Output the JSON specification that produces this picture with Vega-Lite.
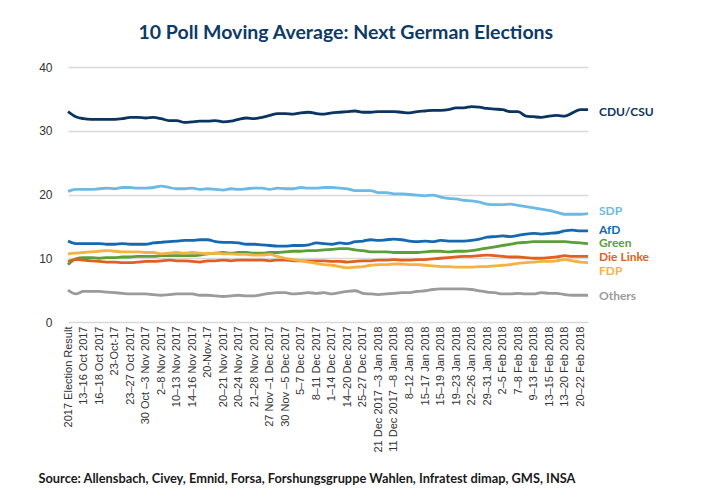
{
  "$schema": "https://vega.github.io/schema/vega-lite/v6.json",
  "width": 520,
  "height": 255,
  "padding": {"left": 38, "top": 22, "right": 0, "bottom": 0},
  "background": "white",
  "title": {
    "text": "10 Poll Moving Average: Next German Elections",
    "font": "Lato",
    "fontSize": 19.5,
    "fontWeight": "bold",
    "color": "#0d3a66",
    "anchor": "middle",
    "frame": "bounds",
    "offset": 18
  },
  "config": {"view": {"stroke": null}},
  "datasets": {
    "polls": [
      {"i":0,"CDU/CSU":33.0,"SDP":20.5,"AfD":12.7,"Green":9.0,"Die Linke":9.5,"FDP":10.7,"Others":5.0},
      {"i":1,"CDU/CSU":32.2,"SDP":20.8,"AfD":12.3,"Green":9.9,"Die Linke":9.8,"FDP":10.8,"Others":4.4},
      {"i":2,"CDU/CSU":31.9,"SDP":20.8,"AfD":12.3,"Green":10.1,"Die Linke":9.7,"FDP":10.9,"Others":4.8},
      {"i":3,"CDU/CSU":31.8,"SDP":20.8,"AfD":12.3,"Green":10.1,"Die Linke":9.6,"FDP":11.0,"Others":4.8},
      {"i":4,"CDU/CSU":31.8,"SDP":20.9,"AfD":12.3,"Green":10.0,"Die Linke":9.5,"FDP":11.1,"Others":4.8},
      {"i":5,"CDU/CSU":31.8,"SDP":21.0,"AfD":12.2,"Green":10.1,"Die Linke":9.4,"FDP":11.2,"Others":4.7},
      {"i":6,"CDU/CSU":31.8,"SDP":20.9,"AfD":12.2,"Green":10.1,"Die Linke":9.4,"FDP":11.1,"Others":4.6},
      {"i":7,"CDU/CSU":31.9,"SDP":21.1,"AfD":12.3,"Green":10.2,"Die Linke":9.3,"FDP":11.0,"Others":4.5},
      {"i":8,"CDU/CSU":32.1,"SDP":21.1,"AfD":12.2,"Green":10.2,"Die Linke":9.3,"FDP":11.0,"Others":4.4},
      {"i":9,"CDU/CSU":32.1,"SDP":21.0,"AfD":12.2,"Green":10.3,"Die Linke":9.4,"FDP":11.0,"Others":4.4},
      {"i":10,"CDU/CSU":32.0,"SDP":21.0,"AfD":12.2,"Green":10.3,"Die Linke":9.5,"FDP":10.9,"Others":4.4},
      {"i":11,"CDU/CSU":32.1,"SDP":21.1,"AfD":12.4,"Green":10.3,"Die Linke":9.5,"FDP":10.9,"Others":4.3},
      {"i":12,"CDU/CSU":31.9,"SDP":21.3,"AfD":12.5,"Green":10.4,"Die Linke":9.6,"FDP":10.7,"Others":4.2},
      {"i":13,"CDU/CSU":31.6,"SDP":21.1,"AfD":12.6,"Green":10.4,"Die Linke":9.7,"FDP":10.8,"Others":4.3},
      {"i":14,"CDU/CSU":31.6,"SDP":20.9,"AfD":12.7,"Green":10.4,"Die Linke":9.6,"FDP":10.9,"Others":4.4},
      {"i":15,"CDU/CSU":31.3,"SDP":20.9,"AfD":12.8,"Green":10.4,"Die Linke":9.6,"FDP":10.8,"Others":4.4},
      {"i":16,"CDU/CSU":31.4,"SDP":21.0,"AfD":12.8,"Green":10.4,"Die Linke":9.5,"FDP":10.9,"Others":4.4},
      {"i":17,"CDU/CSU":31.5,"SDP":20.8,"AfD":12.9,"Green":10.5,"Die Linke":9.4,"FDP":10.8,"Others":4.2},
      {"i":18,"CDU/CSU":31.5,"SDP":20.9,"AfD":12.9,"Green":10.7,"Die Linke":9.6,"FDP":10.7,"Others":4.2},
      {"i":19,"CDU/CSU":31.6,"SDP":20.8,"AfD":12.6,"Green":10.8,"Die Linke":9.6,"FDP":10.8,"Others":4.1},
      {"i":20,"CDU/CSU":31.4,"SDP":20.7,"AfD":12.5,"Green":10.9,"Die Linke":9.7,"FDP":10.7,"Others":4.0},
      {"i":21,"CDU/CSU":31.5,"SDP":20.9,"AfD":12.5,"Green":10.8,"Die Linke":9.6,"FDP":10.7,"Others":4.1},
      {"i":22,"CDU/CSU":31.8,"SDP":20.8,"AfD":12.4,"Green":10.9,"Die Linke":9.7,"FDP":10.6,"Others":4.2},
      {"i":23,"CDU/CSU":32.0,"SDP":20.9,"AfD":12.2,"Green":10.9,"Die Linke":9.7,"FDP":10.6,"Others":4.1},
      {"i":24,"CDU/CSU":31.9,"SDP":21.0,"AfD":12.2,"Green":10.8,"Die Linke":9.7,"FDP":10.5,"Others":4.1},
      {"i":25,"CDU/CSU":32.1,"SDP":21.0,"AfD":12.1,"Green":10.8,"Die Linke":9.7,"FDP":10.5,"Others":4.3},
      {"i":26,"CDU/CSU":32.4,"SDP":20.8,"AfD":12.0,"Green":10.9,"Die Linke":9.6,"FDP":10.6,"Others":4.5},
      {"i":27,"CDU/CSU":32.7,"SDP":21.0,"AfD":11.9,"Green":10.9,"Die Linke":9.7,"FDP":10.3,"Others":4.6},
      {"i":28,"CDU/CSU":32.7,"SDP":20.9,"AfD":11.9,"Green":11.0,"Die Linke":9.7,"FDP":10.0,"Others":4.6},
      {"i":29,"CDU/CSU":32.6,"SDP":20.9,"AfD":12.0,"Green":11.1,"Die Linke":9.6,"FDP":9.8,"Others":4.4},
      {"i":30,"CDU/CSU":32.8,"SDP":21.1,"AfD":12.0,"Green":11.1,"Die Linke":9.6,"FDP":9.6,"Others":4.5},
      {"i":31,"CDU/CSU":32.9,"SDP":21.0,"AfD":12.1,"Green":11.2,"Die Linke":9.6,"FDP":9.4,"Others":4.6},
      {"i":32,"CDU/CSU":32.7,"SDP":21.0,"AfD":12.4,"Green":11.2,"Die Linke":9.6,"FDP":9.2,"Others":4.5},
      {"i":33,"CDU/CSU":32.6,"SDP":21.1,"AfD":12.3,"Green":11.3,"Die Linke":9.6,"FDP":9.0,"Others":4.6},
      {"i":34,"CDU/CSU":32.8,"SDP":21.1,"AfD":12.2,"Green":11.4,"Die Linke":9.5,"FDP":8.9,"Others":4.4},
      {"i":35,"CDU/CSU":32.9,"SDP":21.0,"AfD":12.4,"Green":11.5,"Die Linke":9.5,"FDP":8.7,"Others":4.6},
      {"i":36,"CDU/CSU":33.0,"SDP":20.9,"AfD":12.3,"Green":11.5,"Die Linke":9.4,"FDP":8.5,"Others":4.8},
      {"i":37,"CDU/CSU":33.1,"SDP":20.6,"AfD":12.6,"Green":11.3,"Die Linke":9.5,"FDP":8.6,"Others":4.9},
      {"i":38,"CDU/CSU":32.9,"SDP":20.6,"AfD":12.7,"Green":11.2,"Die Linke":9.6,"FDP":8.7,"Others":4.5},
      {"i":39,"CDU/CSU":32.9,"SDP":20.6,"AfD":12.9,"Green":11.0,"Die Linke":9.6,"FDP":8.9,"Others":4.4},
      {"i":40,"CDU/CSU":33.0,"SDP":20.3,"AfD":12.8,"Green":11.0,"Die Linke":9.7,"FDP":9.0,"Others":4.3},
      {"i":41,"CDU/CSU":33.0,"SDP":20.3,"AfD":12.9,"Green":11.0,"Die Linke":9.7,"FDP":9.0,"Others":4.4},
      {"i":42,"CDU/CSU":33.0,"SDP":20.1,"AfD":13.0,"Green":10.9,"Die Linke":9.8,"FDP":9.1,"Others":4.5},
      {"i":43,"CDU/CSU":32.9,"SDP":20.1,"AfD":12.9,"Green":10.9,"Die Linke":9.7,"FDP":9.1,"Others":4.6},
      {"i":44,"CDU/CSU":32.8,"SDP":20.0,"AfD":12.7,"Green":10.9,"Die Linke":9.7,"FDP":9.0,"Others":4.6},
      {"i":45,"CDU/CSU":33.0,"SDP":19.9,"AfD":12.6,"Green":10.9,"Die Linke":9.8,"FDP":9.0,"Others":4.8},
      {"i":46,"CDU/CSU":33.1,"SDP":19.8,"AfD":12.7,"Green":11.0,"Die Linke":9.8,"FDP":8.9,"Others":4.9},
      {"i":47,"CDU/CSU":33.2,"SDP":19.9,"AfD":12.6,"Green":11.1,"Die Linke":9.9,"FDP":8.8,"Others":5.1},
      {"i":48,"CDU/CSU":33.2,"SDP":19.6,"AfD":12.8,"Green":11.1,"Die Linke":10.0,"FDP":8.7,"Others":5.2},
      {"i":49,"CDU/CSU":33.3,"SDP":19.4,"AfD":12.7,"Green":11.0,"Die Linke":10.1,"FDP":8.7,"Others":5.2},
      {"i":50,"CDU/CSU":33.6,"SDP":19.3,"AfD":12.7,"Green":11.1,"Die Linke":10.2,"FDP":8.6,"Others":5.2},
      {"i":51,"CDU/CSU":33.6,"SDP":19.1,"AfD":12.7,"Green":11.1,"Die Linke":10.3,"FDP":8.6,"Others":5.2},
      {"i":52,"CDU/CSU":33.8,"SDP":19.0,"AfD":12.8,"Green":11.2,"Die Linke":10.3,"FDP":8.6,"Others":5.1},
      {"i":53,"CDU/CSU":33.7,"SDP":18.8,"AfD":13.0,"Green":11.4,"Die Linke":10.4,"FDP":8.7,"Others":4.9},
      {"i":54,"CDU/CSU":33.5,"SDP":18.5,"AfD":13.3,"Green":11.6,"Die Linke":10.5,"FDP":8.7,"Others":4.7},
      {"i":55,"CDU/CSU":33.4,"SDP":18.4,"AfD":13.4,"Green":11.8,"Die Linke":10.4,"FDP":8.8,"Others":4.6},
      {"i":56,"CDU/CSU":33.3,"SDP":18.4,"AfD":13.5,"Green":12.0,"Die Linke":10.3,"FDP":8.9,"Others":4.4},
      {"i":57,"CDU/CSU":33.0,"SDP":18.5,"AfD":13.4,"Green":12.2,"Die Linke":10.2,"FDP":9.0,"Others":4.4},
      {"i":58,"CDU/CSU":33.0,"SDP":18.3,"AfD":13.6,"Green":12.4,"Die Linke":10.2,"FDP":9.2,"Others":4.5},
      {"i":59,"CDU/CSU":32.3,"SDP":18.1,"AfD":13.8,"Green":12.5,"Die Linke":10.1,"FDP":9.3,"Others":4.4},
      {"i":60,"CDU/CSU":32.2,"SDP":17.9,"AfD":13.9,"Green":12.6,"Die Linke":10.0,"FDP":9.4,"Others":4.4},
      {"i":61,"CDU/CSU":32.1,"SDP":17.7,"AfD":13.8,"Green":12.6,"Die Linke":10.0,"FDP":9.5,"Others":4.6},
      {"i":62,"CDU/CSU":32.3,"SDP":17.5,"AfD":13.9,"Green":12.6,"Die Linke":10.1,"FDP":9.5,"Others":4.5},
      {"i":63,"CDU/CSU":32.4,"SDP":17.2,"AfD":14.0,"Green":12.6,"Die Linke":10.2,"FDP":9.6,"Others":4.5},
      {"i":64,"CDU/CSU":32.3,"SDP":16.9,"AfD":14.3,"Green":12.6,"Die Linke":10.4,"FDP":9.8,"Others":4.3},
      {"i":65,"CDU/CSU":32.8,"SDP":16.9,"AfD":14.4,"Green":12.5,"Die Linke":10.3,"FDP":9.6,"Others":4.2},
      {"i":66,"CDU/CSU":33.3,"SDP":16.9,"AfD":14.3,"Green":12.4,"Die Linke":10.3,"FDP":9.4,"Others":4.2},
      {"i":67,"CDU/CSU":33.3,"SDP":17.0,"AfD":14.3,"Green":12.3,"Die Linke":10.3,"FDP":9.3,"Others":4.2}
    ],
    "labels": [
      {"party":"CDU/CSU","i":67,"pos":32.9},
      {"party":"SDP","i":67,"pos":17.4},
      {"party":"AfD","i":67,"pos":14.5},
      {"party":"Green","i":67,"pos":12.35},
      {"party":"Die Linke","i":67,"pos":10.2},
      {"party":"FDP","i":67,"pos":8.0},
      {"party":"Others","i":67,"pos":4.1}
    ]
  },
  "layer": [
    {
      "data": {"name": "polls"},
      "transform": [
        {"fold": ["CDU/CSU","SDP","AfD","Green","Die Linke","FDP","Others"], "as": ["party","share"]}
      ],
      "mark": {"type": "line", "strokeWidth": 2.8, "interpolate": "monotone"},
      "encoding": {
        "x": {
          "field": "i",
          "type": "quantitative",
          "scale": {"domain": [0, 67], "nice": false, "zero": false},
          "axis": {
            "values": [0,2,4,6,8,10,12,14,16,18,20,22,24,26,28,30,32,34,36,38,40,42,44,46,48,50,52,54,56,58,60,62,64,66],
            "tickCount": 100,
            "labelExpr": "['2017 Election Result','13–16 Oct 2017','16–18 Oct 2017','23-Oct-17','23–27 Oct 2017','30 Oct –3 Nov 2017','2–8 Nov 2017','10–13 Nov 2017','14–16 Nov 2017','20-Nov-17','20–21 Nov 2017','20–24 Nov 2017','21–28 Nov 2017','27 Nov –1 Dec 2017','30 Nov –5 Dec 2017','5–7 Dec 2017','8–11 Dec 2017','1–14 Dec 2017','14–20 Dec 2017','25–27 Dec 2017','21 Dec 2017  –3 Jan 2018','11 Dec 2017  –8 Jan 2018','8–12 Jan 2018','15–17 Jan 2018','15–19 Jan 2018','19–23 Jan 2018','22–26 Jan 2018','29–31 Jan 2018','2–5 Feb 2018','7–8 Feb 2018','9–13 Feb 2018','13–15 Feb 2018','13–20 Feb 2018','20–22 Feb 2018'][round(datum.value/2)]",
            "labelAngle": 270,
            "labelFont": "Liberation Sans",
            "labelFontSize": 11,
            "labelColor": "#333333",
            "labelPadding": 4,
            "labelOverlap": false,
            "labelBound": false,
            "labelFlush": false,
            "grid": false,
            "ticks": false,
            "domain": false,
            "title": "Source: Allensbach, Civey, Emnid, Forsa, Forshungsgruppe Wahlen, Infratest dimap, GMS, INSA",
            "titleFont": "Lato",
            "titleFontSize": 12.8,
            "titleFontWeight": "bold",
            "titleColor": "#1a1a1a",
            "titleAnchor": "start",
            "titleAlign": "left",
            "titleBaseline": "alphabetic",
            "titleX": -30,
            "titleY": 160
          }
        },
        "y": {
          "field": "share",
          "type": "quantitative",
          "scale": {"domain": [0, 40], "nice": false},
          "axis": {
            "values": [0,5,10,15,20,25,30,35,40],
            "grid": true,
            "gridColor": "#d9d9d9",
            "gridWidth": 1.5,
            "domain": false,
            "ticks": false,
            "labelPadding": 16,
            "labelFont": "Liberation Sans",
            "labelFontSize": 12,
            "labelColor": "#333333",
            "title": null
          }
        },
        "color": {
          "field": "party",
          "type": "nominal",
          "scale": {
            "domain": ["CDU/CSU","SDP","AfD","Green","Die Linke","FDP","Others"],
            "range": ["#0b3560","#6cb9e3","#1668b1","#5c9e37","#e2601f","#f6b142","#9b9b9b"]
          },
          "legend": null
        }
      }
    },
    {
      "data": {"name": "labels"},
      "mark": {"type": "text", "align": "left", "baseline": "middle", "dx": 11, "font": "Lato", "fontSize": 12, "fontWeight": "bold"},
      "encoding": {
        "x": {"field": "i", "type": "quantitative"},
        "y": {"field": "pos", "type": "quantitative"},
        "text": {"field": "party"},
        "color": {"field": "party", "type": "nominal", "legend": null}
      }
    }
  ]
}
